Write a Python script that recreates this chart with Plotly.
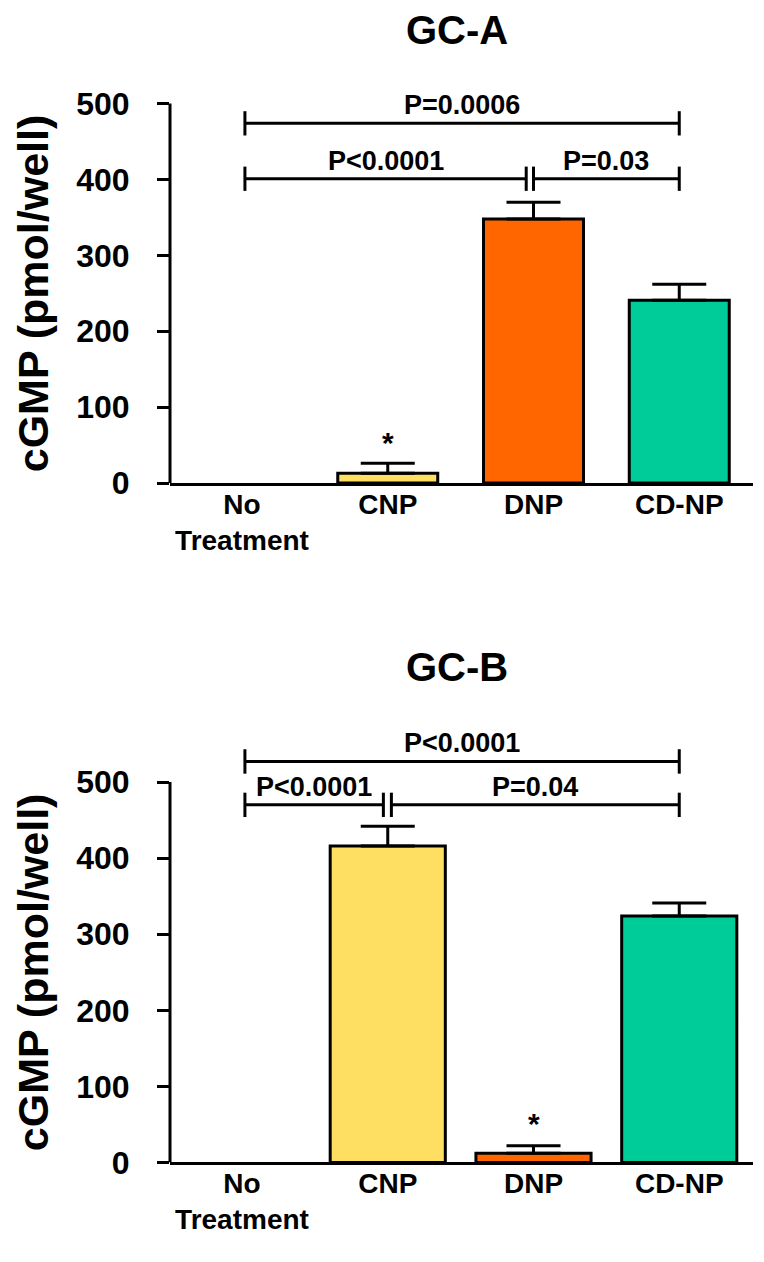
import plotly.graph_objects as go

# ---- data ----
categories = ["No<br>Treatment", "CNP", "DNP", "CD-NP"]
gca_mean = [0, 13, 348, 241]
gca_sem = [0, 13, 22, 21]
gcb_mean = [0, 416, 12, 324]
gcb_sem = [0, 26, 10, 17]
bar_colors = ["#FFFFFF", "#FFDF62", "#FF6600", "#00CC99"]
y_ticks = [0, 100, 200, 300, 400, 500]
y_title = "cGMP (pmol/well)"
panel_titles = ["GC-A", "GC-B"]

# comparison brackets: (from, to, height, label)
gca_brackets = [(0.02, 3.0, 474, "P=0.0006"),
                (0.02, 1.95, 401, "P<0.0001"),
                (2.0, 3.0, 401, "P=0.03")]
gcb_brackets = [(0.02, 3.0, 527, "P<0.0001"),
                (0.02, 0.97, 470, "P<0.0001"),
                (1.025, 3.0, 470, "P=0.04")]
gca_star = (1, 54)
gcb_star = (2, 51)

FONT = "Liberation Sans, Arial, sans-serif"
OFF = 8                      # page body margin
W, H = 764 - OFF, 1262 - OFF
TICK_HALF = 16               # data units of bracket end ticks
YMAX = 560
L = 170 - OFF
R = W - (752.7 - OFF)
PLOT_W = W - L - R

fig = go.Figure()


def add_panel(mean, sem, width, xa, ya, brackets, star):
    xs = list(range(len(categories)))
    fig.add_trace(go.Bar(
        x=xs, y=mean, width=width,
        marker=dict(color=bar_colors,
                    line=dict(color="black",
                              width=[3 if m else 0 for m in mean])),
        xaxis=xa, yaxis=ya, showlegend=False, hoverinfo="skip"))
    # upward error bars (only where an SEM exists)
    idx = [i for i, s in enumerate(sem) if s]
    fig.add_trace(go.Scatter(
        x=[xs[i] for i in idx], y=[mean[i] for i in idx], mode="markers",
        marker=dict(size=1, opacity=0),
        error_y=dict(type="data", array=[sem[i] for i in idx],
                     arrayminus=[0] * len(idx), symmetric=False,
                     color="black", thickness=3, width=27),
        xaxis=xa, yaxis=ya, showlegend=False, hoverinfo="skip"))
    bx, by = [], []
    for x0, x1, yv, label in brackets:
        bx += [x0, x0, None, x0, x1, None, x1, x1, None]
        by += [yv - TICK_HALF, yv + TICK_HALF, None, yv, yv, None,
               yv - TICK_HALF, yv + TICK_HALF, None]
        fig.add_annotation(x=(x0 + x1) / 2, y=yv, xref=xa, yref=ya,
                           text=label, showarrow=False, yanchor="middle",
                           yshift=18,
                           font=dict(family=FONT, size=27, color="black",
                                     weight="bold"))
    fig.add_trace(go.Scatter(x=bx, y=by, mode="lines",
                             line=dict(color="black", width=3),
                             xaxis=xa, yaxis=ya, showlegend=False,
                             hoverinfo="skip"))
    fig.add_annotation(x=star[0], y=star[1], xref=xa, yref=ya, text="*",
                       showarrow=False, yanchor="middle",
                       font=dict(family=FONT, size=30, color="black",
                                 weight="bold"))
    # y-axis spine from 0 to the last tick only
    fig.add_shape(type="line", xref=xa + " domain", yref=ya,
                  x0=0, x1=0, y0=0, y1=y_ticks[-1],
                  line=dict(color="black", width=3))
    # y-axis title centred on the 0..500 span
    fig.add_annotation(x=(33 - OFF - L) / PLOT_W, xref="paper",
                       y=y_ticks[-1] / 2, yref=ya, text=y_title,
                       textangle=-90, showarrow=False,
                       xanchor="center", yanchor="middle",
                       font=dict(family=FONT, size=43, color="black",
                                 weight="bold"))


add_panel(gca_mean, gca_sem, 0.686, "x", "y", gca_brackets, gca_star)
add_panel(gcb_mean, gcb_sem, 0.79, "x2", "y2", gcb_brackets, gcb_star)

xcommon = dict(range=[-0.494, 3.506], showline=True, linewidth=3,
               linecolor="black", showgrid=False, zeroline=False,
               tickvals=list(range(len(categories))), ticktext=categories,
               ticks="", ticklabelstandoff=-6,
               tickfont=dict(family=FONT, size=28, color="black",
                             weight="bold"), fixedrange=True)
ycommon = dict(range=[0, YMAX], showline=False, showgrid=False,
               zeroline=False,
               tickvals=y_ticks, ticks="outside", ticklen=12, tickwidth=3,
               tickcolor="black", ticklabelstandoff=21,
               tickfont=dict(family=FONT, size=32, color="black",
                             weight="bold"),
               fixedrange=True)

top_zero = 490 - OFF
bot_zero = 1179.3 - OFF
fig.update_layout(
    width=W, height=H,
    margin=dict(l=L, r=R, t=0, b=0),
    paper_bgcolor="white", plot_bgcolor="white",
    xaxis=dict(domain=[0, 1], anchor="y", **xcommon),
    xaxis2=dict(domain=[0, 1], anchor="y2", **xcommon),
    yaxis=dict(domain=[1 - top_zero / H,
                       1 - (top_zero - YMAX * 0.77) / H],
               anchor="x", **ycommon),
    yaxis2=dict(domain=[1 - bot_zero / H,
                        1 - (bot_zero - YMAX * 0.772) / H],
                anchor="x2", **ycommon),
)

for txt, ypix in zip(panel_titles, [30, 677]):
    fig.add_annotation(x=(457 - OFF - L) / PLOT_W, y=1 - (ypix - OFF) / H,
                       xref="paper", yref="paper", text=txt,
                       showarrow=False, yanchor="middle",
                       font=dict(family=FONT, size=40, color="black",
                                 weight="bold"))

fig.write_html("out.html")
